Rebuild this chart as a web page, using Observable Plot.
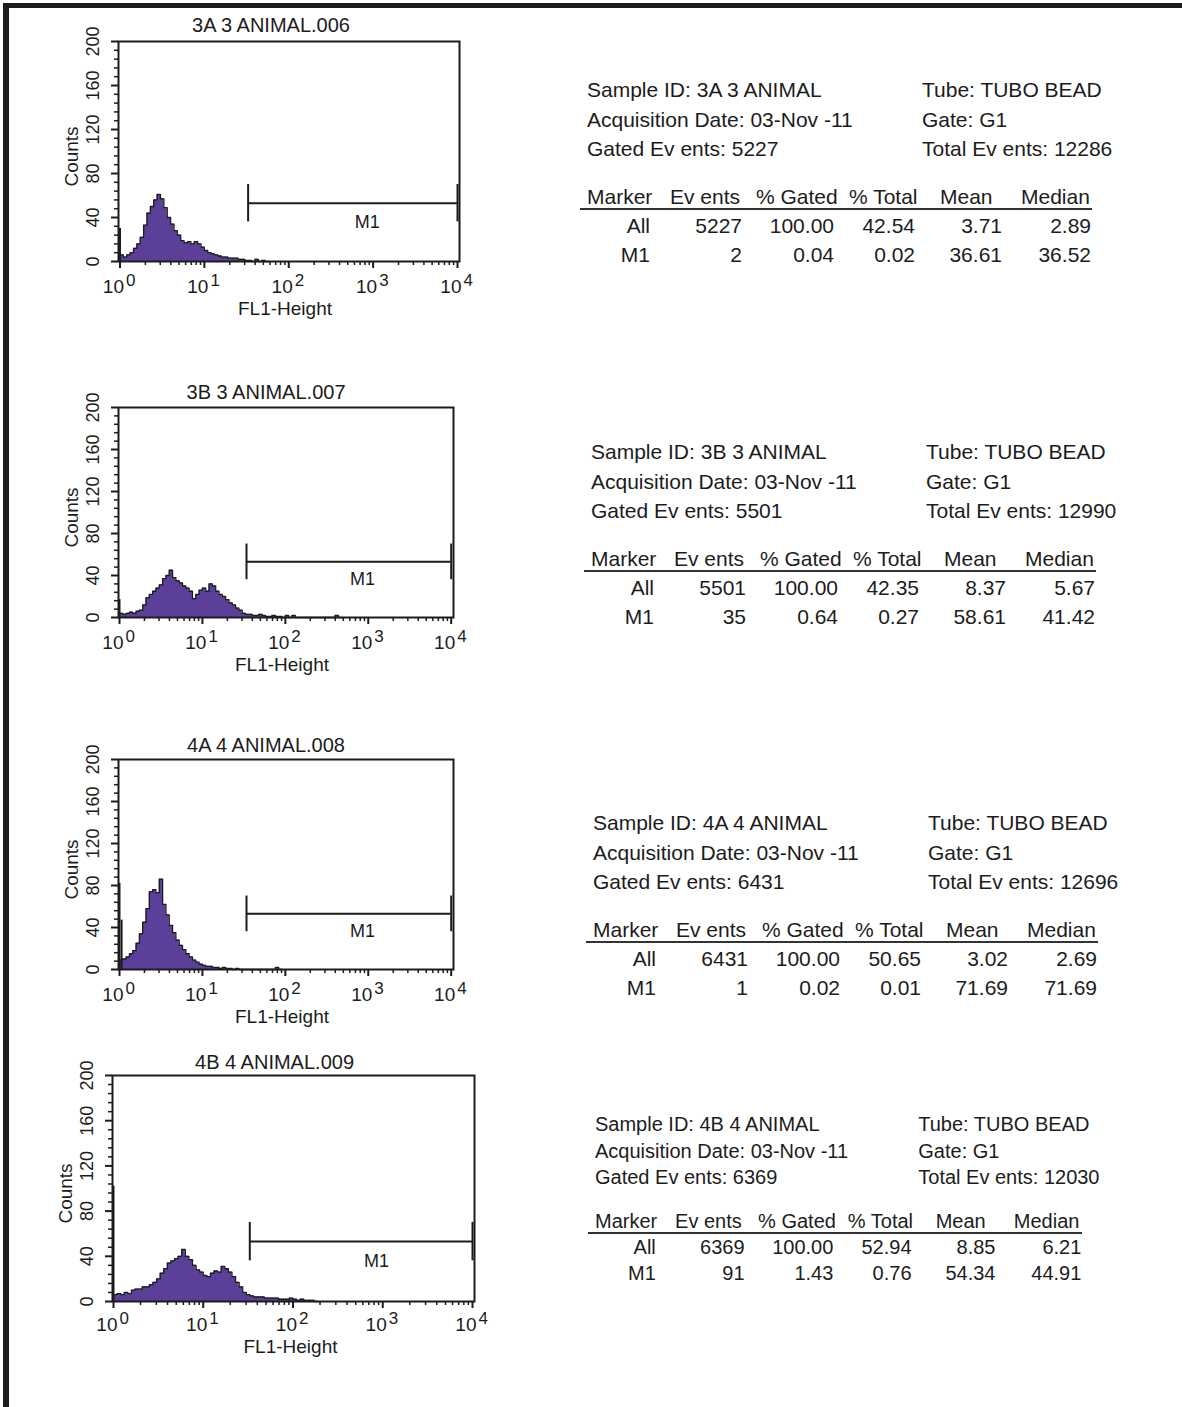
<!DOCTYPE html>
<html><head><meta charset="utf-8">
<script src="https://cdn.jsdelivr.net/npm/d3@7"></script>
<script src="https://cdn.jsdelivr.net/npm/@observablehq/plot@0.6"></script>
<style>
body{margin:0;background:#fff;}
#page{position:relative;width:1182px;height:1407px;overflow:hidden;background:#fff;}
.bl{position:absolute;left:3px;top:3px;width:6px;height:1404px;background:#1c1c1c}
.bt{position:absolute;left:3px;top:3px;width:1179px;height:5px;background:#1c1c1c}
.plot{position:absolute}
.t{position:absolute;white-space:pre;font-family:"Liberation Sans",Arial,sans-serif;color:#1c1c1c;line-height:1;transform:translateY(-50%)}
.r{text-align:right;width:200px}
.hl{position:absolute;height:2px;background:#333}
</style></head>
<body><div id="page"><div class="bl"></div><div class="bt"></div></div>
<script>
// ---------------- data ----------------
const binStep = 0.04; // decades per histogram bin (log FL1 channel groups)
const fileNames = ["3A 3 ANIMAL.006","3B 3 ANIMAL.007","4A 4 ANIMAL.008","4B 4 ANIMAL.009"];
const sampleIds = ["3A 3 ANIMAL","3B 3 ANIMAL","4A 4 ANIMAL","4B 4 ANIMAL"];
const acqDate = "03-Nov -11";
const tubeName = "TUBO BEAD";
const gateName = "G1";
const gatedEvents = [5227, 5501, 6431, 6369];
const totalEvents = [12286, 12990, 12696, 12030];
const tableHeader = ["Marker","Ev ents","% Gated","% Total","Mean","Median"];
const rowsAll = [
  ["All","5227","100.00","42.54","3.71","2.89"],
  ["All","5501","100.00","42.35","8.37","5.67"],
  ["All","6431","100.00","50.65","3.02","2.69"],
  ["All","6369","100.00","52.94","8.85","6.21"]];
const rowsM1 = [
  ["M1","2","0.04","0.02","36.61","36.52"],
  ["M1","35","0.64","0.27","58.61","41.42"],
  ["M1","1","0.02","0.01","71.69","71.69"],
  ["M1","91","1.43","0.76","54.34","44.91"]];

// histogram counts per bin (bin i starts at 10^(i*binStep))
const counts3A = [6,4,6,8,12,16,22,33,44,50,56,61,57,49,40,34,28,24,19,17,18,16,18,16,13,10,8,7,6,5,4,4,3,3,3,2,2,1,1,0,2,0,1,0];
const counts3B = [4,3,4,5,4,6,7,12,19,22,25,28,31,37,40,45,38,35,33,30,28,25,18,22,26,28,25,32,30,25,22,20,17,14,12,9,7,4,3,3,2,2,3,2,1,1,2,1,1,0,2,0,2,0,0,0,0,0,0,0,0,0,0,0,0,2,0];
const counts4A = [9,10,12,15,18,25,34,45,58,74,76,73,86,62,52,42,35,28,23,19,15,12,9,7,5,4,3,3,2,2,1,2,1,1,0,1,0,0,0,0,0,0,0,0,0,0,0,2,0];
const counts4B = [6,7,6,8,7,10,11,11,13,13,15,17,20,25,29,34,36,38,40,46,40,37,32,28,26,23,22,25,27,26,31,29,26,22,17,13,8,6,5,4,4,4,3,3,3,3,2,2,2,3,2,1,2,1,1,1,0];
// pile-up spikes at the lowest channel (x, count)
const spikes3A = [[1, 30]];
const spikes3B = [[1, 17]];
const spikes4A = [[1, 82], [1.06, 47]];
const spikes4B = [[1, 102]];
// M1 marker gate
const markerStart = [33, 34, 34, 33];
const markerEnd = 10000;
const markerY = 53;
const markerHalf = 17;
const markerLabelX = 850;
const markerLabelY = 36;
// axes
const yTicks = [0, 40, 80, 120, 160, 200];
const yMinor = [8,16,24,32,48,56,64,72,88,96,104,112,128,136,144,152,168,176,184,192];
const xDecades = [1, 10, 100, 1000, 10000];
const xExponents = ["0","1","2","3","4"];
const xMinor = [2,3,4,5,6,7,8,9,20,30,40,50,60,70,80,90,200,300,400,500,600,700,800,900,2000,3000,4000,5000,6000,7000,8000,9000];
const yLabel = "Counts";
const xLabel = "FL1-Height";

const allCounts = [counts3A, counts3B, counts4A, counts4B];
const allSpikes = [spikes3A, spikes3B, spikes4A, spikes4B];

// ---------------- layout ----------------
const layout = [
  {l:118, t:41, w:341, h:220, inL:1.5, inR:2, titleDx:-18, titleDy:-16, xlDx:-4, xlDy:47, xtDy:25.5,
   tx:587, ty:89, sx:1, sy:1, fs:21},
  {l:118, t:407, w:335, h:210, inL:1, inR:2.3, titleDx:-20, titleDy:-15, xlDx:-4, xlDy:47, xtDy:25.5,
   tx:591, ty:451, sx:1, sy:1, fs:21},
  {l:118, t:759, w:335, h:210, inL:1, inR:2.3, titleDx:-20, titleDy:-14, xlDx:-4, xlDy:47, xtDy:25.5,
   tx:593, ty:822, sx:1, sy:1, fs:21},
  {l:112, t:1075, w:362, h:226, inL:1, inR:2, titleDx:-19, titleDy:-13, xlDx:-3, xlDy:45, xtDy:23,
   tx:595, ty:1124, sx:0.965, sy:0.905, fs:20}
];
const FONT = '"Liberation Sans", Arial, sans-serif';
const INK = "#1c1c1c";
const PURPLE = "#5b3f99";

const page = document.getElementById("page");

function histPlot(k) {
  const L = layout[k];
  const counts = allCounts[k];
  const data = counts.map((c, i) => ({x: Math.pow(10, i * binStep), y: c}));
  data.push({x: Math.pow(10, counts.length * binStep), y: 0});
  const spikes = allSpikes[k].map(([x, y]) => ({x, y}));
  const ml = 70, mt = 40, mr = 25, mb = 60;
  const W = ml + L.w + mr, H = mt + L.h + mb;
  const yTickData = yTicks.map(v => ({v}));
  const expData = xDecades.map((d, i) => ({d, e: xExponents[i]}));
  const svg = Plot.plot({
    width: W, height: H,
    marginLeft: ml, marginTop: mt, marginRight: mr, marginBottom: mb,
    style: {fontFamily: FONT, fontSize: "17px", color: INK, background: "transparent", overflow: "visible"},
    x: {type: "log", domain: [1, 10000], range: [ml + L.inL, ml + L.w - L.inR], label: null},
    y: {domain: [0, 200], range: [mt + L.h, mt], label: null},
    marks: [
      Plot.areaY(data, {x: "x", y: "y", curve: "step-after", fill: PURPLE}),
      Plot.lineY(data, {x: "x", y: "y", curve: "step-after", stroke: INK, strokeWidth: 1.3}),
      Plot.ruleX(spikes, {x: "x", y1: 0, y2: "y", stroke: INK, strokeWidth: 2}),
      Plot.ruleY([{x1: markerStart[k], x2: markerEnd, y: markerY}], {x1: "x1", x2: "x2", y: "y", stroke: INK, strokeWidth: 2}),
      Plot.ruleX([markerStart[k], markerEnd], {x: d => d, y1: markerY - markerHalf, y2: markerY + markerHalf, stroke: INK, strokeWidth: 2}),
      Plot.text(["M1"], {x: markerLabelX, y: markerLabelY, text: d => d, fontSize: 18, fill: INK, lineAnchor: "middle", textAnchor: "middle"}),
      Plot.frame({stroke: INK, strokeWidth: 2}),
      Plot.axisY({ticks: yMinor, tickSize: 4, tickFormat: () => "", strokeWidth: 1.5, label: null}),
      Plot.axisY({ticks: yTicks, tickSize: 7, tickFormat: () => "", strokeWidth: 2, label: null}),
      Plot.text(yTickData, {y: "v", text: d => String(d.v), frameAnchor: "left", dx: -25, rotate: -90,
        textAnchor: "middle", lineAnchor: "middle", fontSize: 18, fill: INK}),
      Plot.axisX({ticks: xMinor, tickSize: 4, tickFormat: () => "", strokeWidth: 1.5, label: null}),
      Plot.axisX({ticks: xDecades, tickSize: 7, tickFormat: () => "", strokeWidth: 2, label: null}),
      Plot.text(xDecades, {x: d => d, text: () => "10", frameAnchor: "bottom", dy: L.xtDy, dx: 4,
        textAnchor: "end", lineAnchor: "middle", fontSize: 19, fill: INK}),
      Plot.text(expData, {x: "d", text: "e", frameAnchor: "bottom", dy: L.xtDy - 6, dx: 6,
        textAnchor: "start", lineAnchor: "middle", fontSize: 17, fill: INK}),
      Plot.text([xLabel], {text: d => d, frameAnchor: "bottom", dx: L.xlDx, dy: L.xlDy, lineAnchor: "middle", textAnchor: "middle", fontSize: 19, fill: INK}),
      Plot.text([yLabel], {text: d => d, frameAnchor: "left", dx: -47, dy: 5, rotate: -90, lineAnchor: "middle", textAnchor: "middle", fontSize: 19, fill: INK}),
      Plot.text([fileNames[k]], {text: d => d, frameAnchor: "top", dx: L.titleDx, dy: L.titleDy, lineAnchor: "middle", textAnchor: "middle", fontSize: 20, fill: INK})
    ]
  });
  svg.classList.add("plot");
  svg.style.left = (L.l - ml) + "px";
  svg.style.top = (L.t - mt) + "px";
  page.appendChild(svg);
}

function addText(txt, x, y, fs, right) {
  const d = document.createElement("div");
  d.className = "t" + (right ? " r" : "");
  d.textContent = txt;
  d.style.fontSize = fs + "px";
  d.style.left = (right ? x - 200 : x) + "px";
  d.style.top = y + "px";
  page.appendChild(d);
}

function table(k) {
  const L = layout[k];
  const sx = L.sx, sy = L.sy, fs = L.fs;
  const x0 = L.tx, y0 = L.ty;
  const col2 = x0 + 335 * sx;
  addText("Sample ID: " + sampleIds[k], x0, y0, fs);
  addText("Tube: " + tubeName, col2, y0, fs);
  addText("Acquisition Date: " + acqDate, x0, y0 + 30 * sy, fs);
  addText("Gate: " + gateName, col2, y0 + 30 * sy, fs);
  addText("Gated Ev ents: " + gatedEvents[k], x0, y0 + 59 * sy, fs);
  addText("Total Ev ents: " + totalEvents[k], col2, y0 + 59 * sy, fs);
  const hl = [0, 83, 169, 262, 353, 434];
  const dr = [63, 155, 247, 328, 415, 504];
  tableHeader.forEach((h, i) => addText(h, x0 + hl[i] * sx, y0 + 107 * sy, fs));
  const line = document.createElement("div");
  line.className = "hl";
  line.style.left = (x0 - 7 * sx) + "px";
  line.style.width = (512 * sx) + "px";
  line.style.top = (y0 + 119 * sy) + "px";
  page.appendChild(line);
  rowsAll[k].forEach((v, i) => addText(v, x0 + dr[i] * sx, y0 + 136 * sy, fs, true));
  rowsM1[k].forEach((v, i) => addText(v, x0 + dr[i] * sx, y0 + 165 * sy, fs, true));
}

for (let k = 0; k < 4; k++) { histPlot(k); table(k); }
</script>
</body></html>
